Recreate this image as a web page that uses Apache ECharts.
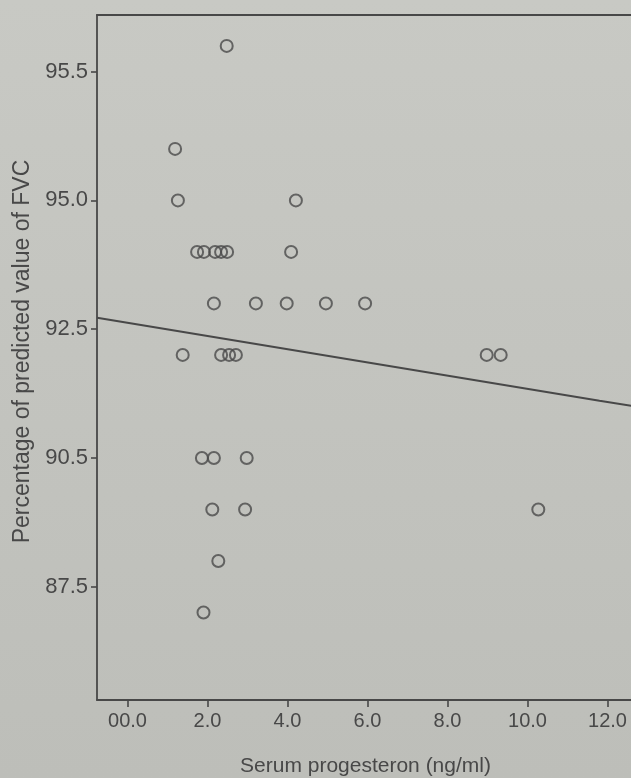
<!DOCTYPE html>
<html>
<head>
<meta charset="utf-8">
<script src="https://cdn.jsdelivr.net/npm/echarts@6/dist/echarts.min.js"></script>
<style>
  html, body { margin: 0; padding: 0; }
  #chart { width: 631px; height: 778px; }
</style>
</head>
<body>
<div id="chart"></div>
<script>
// Serum progesterone vs. % predicted FVC, with fitted trend line
const progesterone = [
  2.48,
  1.19,
  1.26, 4.21,
  1.74, 1.91, 2.19, 2.34, 2.49, 4.09,
  2.16, 3.21, 3.98, 4.96, 5.94,
  1.38, 2.34, 2.54, 2.71, 8.98, 9.33,
  1.86, 2.16, 2.98,
  2.12, 2.94, 10.27,
  2.27,
  1.90
];
const fvcPercent = [
  98,
  96,
  95, 95,
  94, 94, 94, 94, 94, 94,
  93, 93, 93, 93, 93,
  92, 92, 92, 92, 92, 92,
  90, 90, 90,
  89, 89, 89,
  88,
  87
];

// Fitted line through the cloud
const trendX = [-0.76, 11.8, 12.7];
const trendY = [92.72, 91.11, 91.00];

// Axis ticks and the labels printed at them
const xTickValues = [0, 2, 4, 6, 8, 10, 12];
const xTickLabels = ['00.0', '2.0', '4.0', '6.0', '8.0', '10.0', '12.0'];
const yTickValues = [87.5, 90, 92.5, 95, 97.5];
const yTickLabels = ['87.5', '90.5', '92.5', '95.0', '95.5'];

const xTitle = 'Serum progesteron (ng/ml)';
const yTitle = 'Percentage of predicted value of FVC';

const ink = '#484848';
const font = 'Liberation Sans, Arial, sans-serif';

const points = progesterone.map((x, i) => [x, fvcPercent[i]]);
const trend = trendX.map((x, i) => [x, trendY[i]]);

const xMin = -0.7625, xMax = 12.6625;

const chart = echarts.init(document.getElementById('chart'));
chart.setOption({
  animation: false,
  backgroundColor: {
    type: 'linear', x: 0, y: 0, x2: 0, y2: 1,
    colorStops: [
      { offset: 0, color: '#c8c9c4' },
      { offset: 1, color: '#bdbeb9' }
    ]
  },
  // plot area runs off the right-hand edge of the page
  grid: { left: 97, right: -3, top: 15, bottom: 78, containLabel: false, outerBoundsMode: 'none' },
  xAxis: [{
    type: 'value',
    position: 'bottom',
    min: xMin,
    max: xMax,
    splitLine: { show: false },
    axisLine: { show: true, onZero: false, lineStyle: { color: ink, width: 1.8 } },
    axisTick: { show: true, customValues: xTickValues, length: 7, lineStyle: { color: ink, width: 1.6 } },
    axisLabel: {
      customValues: xTickValues,
      formatter: v => xTickLabels[xTickValues.indexOf(v)],
      color: ink, fontFamily: font, fontSize: 20, margin: 11
    },
    name: xTitle,
    nameLocation: 'middle',
    nameGap: 56,
    nameTextStyle: { color: ink, fontFamily: font, fontSize: 21 }
  }, {
    type: 'value',
    position: 'top',
    min: xMin,
    max: xMax,
    splitLine: { show: false },
    axisLine: { show: true, onZero: false, lineStyle: { color: ink, width: 1.8 } },
    axisTick: { show: false },
    axisLabel: { show: false }
  }],
  yAxis: {
    type: 'value',
    min: 85.30,
    max: 98.60,
    splitLine: { show: false },
    axisLine: { show: true, onZero: false, lineStyle: { color: ink, width: 1.8 } },
    axisTick: { show: true, customValues: yTickValues, length: 6, lineStyle: { color: ink, width: 1.6 } },
    axisLabel: {
      customValues: yTickValues,
      formatter: v => yTickLabels[yTickValues.indexOf(v)],
      color: ink, fontFamily: font, fontSize: 22, margin: 9
    }
  },
  graphic: [{
    type: 'text',
    x: 22.5,
    y: 351.5,
    rotation: Math.PI / 2,
    style: {
      text: yTitle,
      fill: ink,
      font: '23px ' + font,
      align: 'center',
      verticalAlign: 'middle'
    }
  }],
  series: [{
    type: 'scatter',
    data: points,
    symbol: 'circle',
    symbolSize: 12,
    itemStyle: { color: 'rgba(0,0,0,0)', borderColor: '#4a4a4a', borderWidth: 2 }
  }, {
    type: 'line',
    data: trend,
    symbol: 'none',
    lineStyle: { color: ink, width: 2 }
  }]
});
</script>
</body>
</html>
